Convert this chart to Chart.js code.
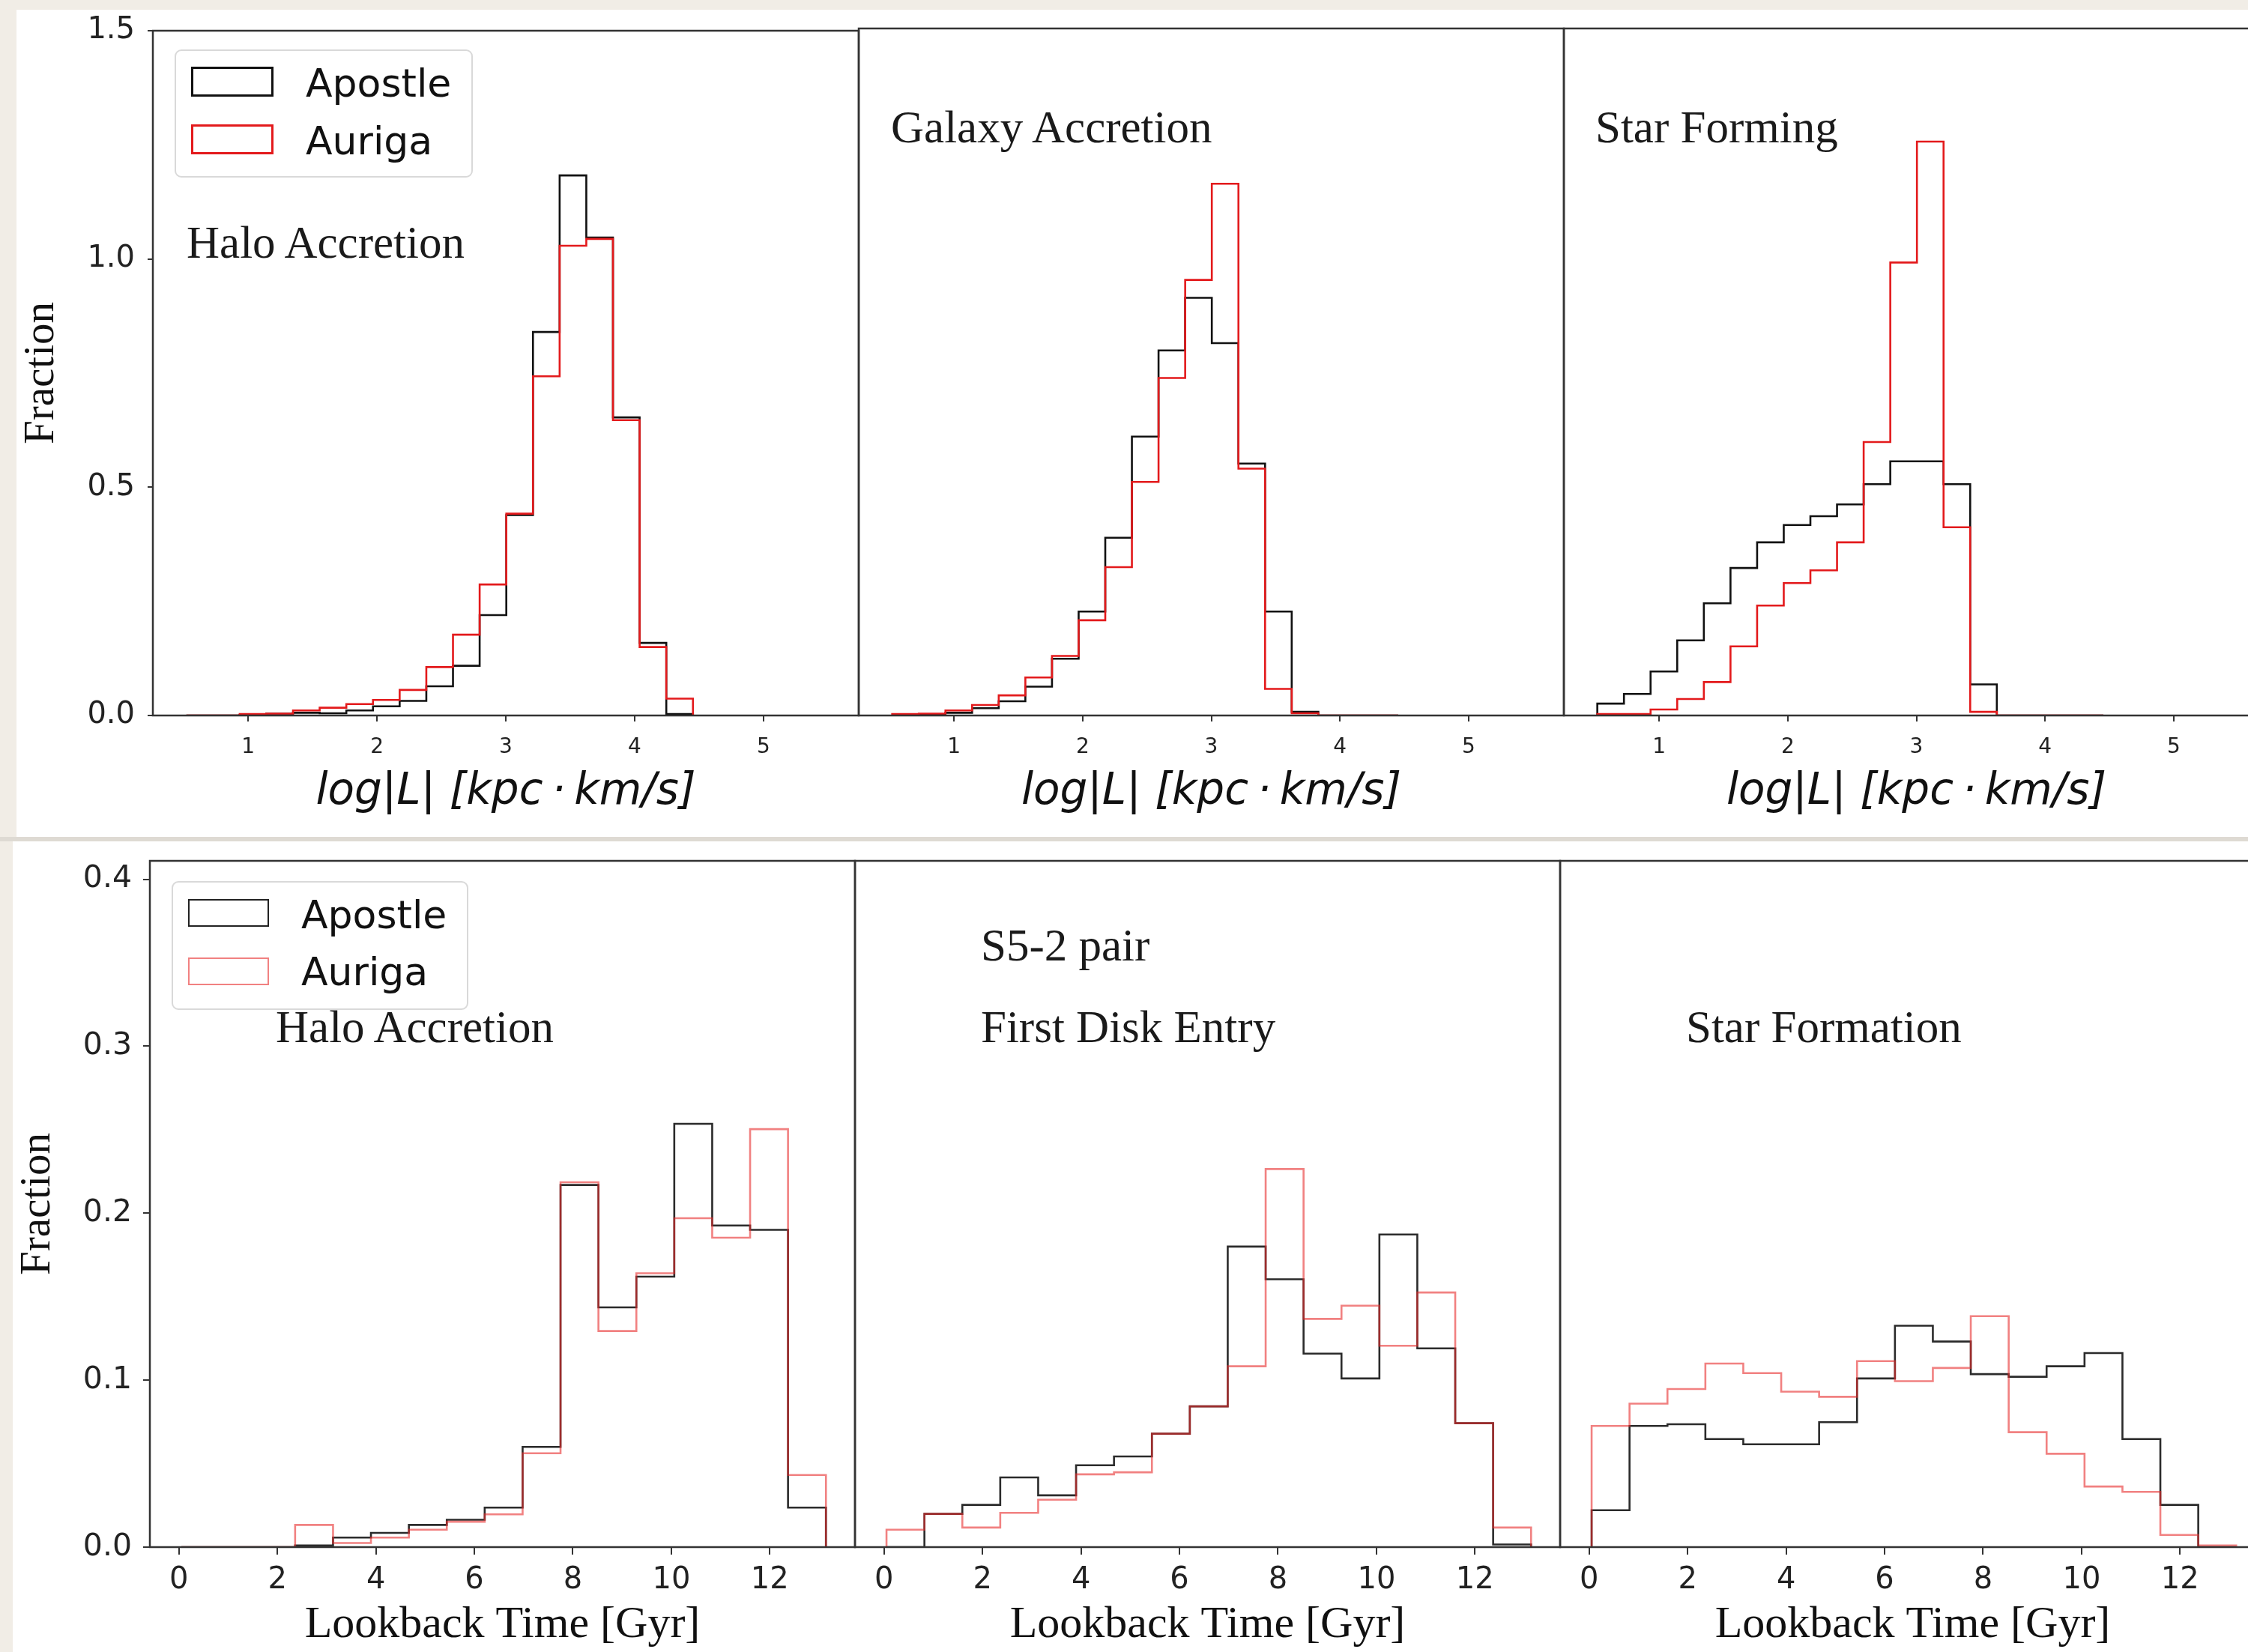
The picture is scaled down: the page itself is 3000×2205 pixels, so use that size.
<!DOCTYPE html>
<html>
<head>
<meta charset="utf-8">
<script src="https://cdn.jsdelivr.net/npm/chart.js@4.4.1/dist/chart.umd.min.js"></script>
<style>
html,body{margin:0;padding:0;}
body{width:3000px;height:2205px;overflow:hidden;background:#f1ede6;position:relative;}
.fig{position:absolute;background:#fff;}
canvas{position:absolute;}
.ann{position:absolute;font-family:'Liberation Serif';font-size:61px;line-height:0;color:#1a1a1a;white-space:nowrap;}
.leg{position:absolute;background:#fff;border:2px solid #d9d9d9;border-radius:9px;box-sizing:border-box;}
.patch{position:absolute;box-sizing:border-box;background:#fff;}
.ltxt{position:absolute;font-family:'DejaVu Sans';font-size:52px;line-height:0;color:#111;white-space:nowrap;}
</style>
</head>
<body>
<div class="fig" style="left:22px;top:13px;width:2978px;height:1104px;"></div>
<div class="fig" style="left:0;top:1117px;width:3000px;height:6px;background:#dedad3;"></div>
<div class="fig" style="left:17px;top:1123px;width:2983px;height:1082px;"></div>
<script>
// ---------------- DATA ----------------
const seriesNames = ['Apostle', 'Auriga'];

// Top row: log|L| histograms (bin edges shared by the three panels)
const topEdges = [0.52, 0.727, 0.934, 1.141, 1.348, 1.555, 1.762, 1.969, 2.176, 2.383,
                  2.59, 2.797, 3.004, 3.211, 3.418, 3.625, 3.832, 4.039, 4.246, 4.453];
const topTitles = ['Halo Accretion', 'Galaxy Accretion', 'Star Forming'];
const haloL_apostle   = [0, 0, 0.001, 0.004, 0.006, 0.005, 0.011, 0.020, 0.032, 0.064, 0.109, 0.220, 0.439, 0.840, 1.183, 1.047, 0.653, 0.159, 0.003];
const haloL_auriga    = [0, 0, 0.003, 0.004, 0.011, 0.017, 0.025, 0.034, 0.056, 0.106, 0.177, 0.287, 0.442, 0.743, 1.029, 1.044, 0.647, 0.150, 0.037];
const galaxyL_apostle = [0.000, 0.002, 0.006, 0.016, 0.031, 0.063, 0.124, 0.227, 0.388, 0.609, 0.797, 0.912, 0.813, 0.550, 0.227, 0.008, 0, 0, 0];
const galaxyL_auriga  = [0.003, 0.004, 0.011, 0.023, 0.044, 0.083, 0.130, 0.208, 0.324, 0.510, 0.737, 0.951, 1.161, 0.539, 0.058, 0.005, 0, 0, 0];
const starL_apostle   = [0.026, 0.047, 0.096, 0.164, 0.245, 0.322, 0.378, 0.416, 0.435, 0.461, 0.505, 0.555, 0.555, 0.505, 0.068, 0, 0, 0, 0];
const starL_auriga    = [0.003, 0.003, 0.013, 0.036, 0.073, 0.151, 0.240, 0.289, 0.317, 0.378, 0.597, 0.989, 1.253, 0.411, 0.008, 0, 0, 0, 0];
const topXTicks = [1, 2, 3, 4, 5];
const topYTicks = [0.0, 0.5, 1.0, 1.5];

// Bottom row: lookback time histograms
const botEdges = [0.05, 0.82, 1.59, 2.36, 3.13, 3.90, 4.67, 5.44, 6.21, 6.98,
                  7.75, 8.52, 9.29, 10.06, 10.83, 11.60, 12.37, 13.14];
const botTitles = ['Halo Accretion', 'First Disk Entry', 'Star Formation'];
const botSubTitle = 'S5-2 pair';
const haloT_apostle = [0, 0, 0, 0.001, 0.0057, 0.0085, 0.0133, 0.0164, 0.0237, 0.060, 0.2169, 0.1436, 0.162, 0.2535, 0.1926, 0.190, 0.0237];
const haloT_auriga  = [0, 0, 0, 0.0133, 0.0025, 0.0057, 0.0104, 0.0152, 0.0196, 0.0562, 0.2185, 0.1294, 0.164, 0.197, 0.1853, 0.2503, 0.0432];
const diskT_apostle = [0, 0.0199, 0.0253, 0.0417, 0.031, 0.049, 0.0543, 0.0679, 0.0843, 0.180, 0.1604, 0.1159, 0.101, 0.1872, 0.119, 0.0742, 0.0016];
const diskT_auriga  = [0.0104, 0.0199, 0.0117, 0.0205, 0.0284, 0.0436, 0.0448, 0.0679, 0.0843, 0.1083, 0.2264, 0.1367, 0.1446, 0.1206, 0.1525, 0.0742, 0.0117];
const sfT_apostle   = [0.0221, 0.0726, 0.0736, 0.0647, 0.0616, 0.0616, 0.0748, 0.101, 0.1326, 0.1231, 0.1036, 0.102, 0.1083, 0.1162, 0.0647, 0.0253, 0];
const sfT_auriga    = [0.0726, 0.0859, 0.0947, 0.1099, 0.1042, 0.0931, 0.090, 0.1114, 0.0994, 0.1073, 0.1383, 0.0688, 0.0559, 0.0363, 0.0331, 0.0073, 0.001];
const botXTicks = [0, 2, 4, 6, 8, 10, 12];
const botYTicks = [0.0, 0.1, 0.2, 0.3, 0.4];

const topXLabel = 'log|L| [kpc\u2009\u00b7\u2009km/s]';
const botXLabel = 'Lookback Time [Gyr]';
const yLabel = 'Fraction';

// ---------------- STYLE / LAYOUT ----------------
const TOP = {canvasTop:0, canvasBottom:1117, plotTop:38, plotBottom:955,
  xMin:0.26, xMax:5.74, yMin:0, yMax:1.5, xTicks:topXTicks, yTicks:topYTicks, edges:topEdges,
  xTickSize:28, xTickLen:8, xTickPad:18, yTickSize:40, yTickLen:7, yTickPad:17,
  xTitle:topXLabel, xTitleFont:{family:'DejaVu Sans', style:'italic', size:58}, xTitlePad:24,
  redColor:'#e31a1c', blackColor:'#111111', lw:2.6};
const BOT = {canvasTop:1095, canvasBottom:2205, plotTop:1149, plotBottom:2065,
  xMin:-0.59, xMax:13.73, yMin:0, yMax:0.411, xTicks:botXTicks, yTicks:botYTicks, edges:botEdges,
  xTickSize:40, xTickLen:10, xTickPad:11, yTickSize:41, yTickLen:9, yTickPad:15,
  xTitle:botXLabel, xTitleFont:{family:'Liberation Serif', size:60}, xTitlePad:0,
  redColor:'rgba(232,45,45,0.6)', blackColor:'rgba(25,25,25,0.92)', lw:2.6};

const framePlugin = {
  id:'frame',
  afterDatasetsDraw(chart, args, opts){
    const {ctx, chartArea:a} = chart;
    ctx.save();
    ctx.strokeStyle = opts.color; ctx.lineWidth = opts.width;
    ctx.strokeRect(a.left, a.top, a.right - a.left, a.bottom - a.top);
    ctx.restore();
  }
};

function stepPoints(edges, vals){
  const pts = [{x:edges[0], y:0}];
  for (let i = 0; i < vals.length; i++) pts.push({x:edges[i], y:vals[i]});
  pts.push({x:edges[vals.length], y:0});
  return pts;
}

function makePanel(R, plotLeft, plotRight, padL, showY, black, red){
  const padR = 6;
  const W = padL + (plotRight - plotLeft) + padR;
  const H = R.canvasBottom - R.canvasTop;
  const padT = R.plotTop - R.canvasTop;
  const padB = R.canvasBottom - R.plotBottom;
  const cv = document.createElement('canvas');
  cv.width = W; cv.height = H;
  cv.style.left = (plotLeft - padL) + 'px';
  cv.style.top = R.canvasTop + 'px';
  cv.style.width = W + 'px'; cv.style.height = H + 'px';
  document.body.appendChild(cv);
  new Chart(cv, {
    type:'line',
    data:{datasets:[
      {label:seriesNames[1], data:stepPoints(R.edges, red), borderColor:R.redColor, borderWidth:R.lw,
       stepped:'before', pointRadius:0, fill:false, order:0, borderJoinStyle:'miter'},
      {label:seriesNames[0], data:stepPoints(R.edges, black), borderColor:R.blackColor, borderWidth:R.lw,
       stepped:'before', pointRadius:0, fill:false, order:1, borderJoinStyle:'miter'}
    ]},
    options:{
      responsive:false, animation:false, devicePixelRatio:1,
      layout:{padding:{top:padT, right:padR, bottom:0, left:0}},
      plugins:{legend:{display:false}, tooltip:{enabled:false}, frame:{color:'#333', width:2.5}},
      scales:{
        x:{type:'linear', min:R.xMin, max:R.xMax,
          afterBuildTicks:s => { s.ticks = R.xTicks.map(v => ({value:v})); },
          afterFit:s => { s.height = padB; },
          ticks:{font:{family:'DejaVu Sans', size:R.xTickSize}, color:'#222', padding:R.xTickPad,
                 maxRotation:0, autoSkip:false, callback:v => String(v)},
          grid:{display:true, drawOnChartArea:false, drawTicks:true, tickLength:R.xTickLen,
                tickWidth:2, tickColor:'#333', lineWidth:2, color:'#333'},
          border:{display:false},
          title:{display:true, text:R.xTitle, font:R.xTitleFont, color:'#111', padding:{top:0, bottom:R.xTitlePad}}
        },
        y:{type:'linear', min:R.yMin, max:R.yMax,
          afterBuildTicks:s => { s.ticks = R.yTicks.map(v => ({value:v})); },
          afterFit:s => { s.width = padL; },
          ticks:{display:showY, font:{family:'DejaVu Sans', size:R.yTickSize}, color:'#222', padding:R.yTickPad,
                 callback:v => Number(v).toFixed(1)},
          grid:{display:showY, drawOnChartArea:false, drawTicks:true, tickLength:R.yTickLen,
                tickWidth:2, tickColor:'#333', lineWidth:2, color:'#333'},
          border:{display:false},
          title:{display:showY, text:yLabel, font:{family:'Liberation Serif', size:57}, color:'#111', padding:{top:0, bottom:0}}
        }
      }
    },
    plugins:[framePlugin]
  });
}

// top row
makePanel(TOP, 204, 1146, 182, true, haloL_apostle, haloL_auriga);
makePanel(TOP, 1146, 2087, 6, false, galaxyL_apostle, galaxyL_auriga);
makePanel(TOP, 2087, 3028, 6, false, starL_apostle, starL_auriga);
// bottom row
makePanel(BOT, 200, 1141, 183, true, haloT_apostle, haloT_auriga);
makePanel(BOT, 1141, 2082, 6, false, diskT_apostle, diskT_auriga);
makePanel(BOT, 2082, 3023, 6, false, sfT_apostle, sfT_auriga);

// ---------------- annotations ----------------
function addText(cls, text, left, baseline, k){
  const d = document.createElement('div');
  d.className = cls;
  d.textContent = text;
  d.style.left = left + 'px';
  d.style.top = (baseline - k) + 'px';
  document.body.appendChild(d);
  return d;
}
const serifK = 0.3375 * 61;
addText('ann', topTitles[0], 249, 345, serifK);
addText('ann', topTitles[1], 1189, 191, serifK);
addText('ann', topTitles[2], 2129, 191, serifK);
addText('ann', botTitles[0], 368, 1392, serifK);
addText('ann', botSubTitle, 1309, 1283, serifK);
addText('ann', botTitles[1], 1309, 1392, serifK);
addText('ann', botTitles[2], 2250, 1392, serifK);

// ---------------- legends ----------------
function addLegend(box, patches, textLeft, baselines, colors, bw){
  const b = document.createElement('div');
  b.className = 'leg';
  Object.assign(b.style, {left:box[0]+'px', top:box[1]+'px', width:box[2]+'px', height:box[3]+'px'});
  document.body.appendChild(b);
  for (let i = 0; i < 2; i++){
    const p = document.createElement('div');
    p.className = 'patch';
    const r = patches[i];
    Object.assign(p.style, {left:r[0]+'px', top:r[1]+'px', width:r[2]+'px', height:r[3]+'px', border:bw+'px solid '+colors[i]});
    document.body.appendChild(p);
    addText('ltxt', seriesNames[i], textLeft, baselines[i], 0.346 * 52);
  }
}
addLegend([233, 66, 398, 171], [[255, 89, 110, 40], [255, 166, 110, 40]], 408, [129, 206], ['#111', '#e31a1c'], 3);
addLegend([229, 1176, 396, 172], [[251, 1200, 108, 37], [251, 1278, 108, 37]], 402, [1239, 1315], ['#222', 'rgba(232,45,45,0.6)'], 2.5);
</script>
</body>
</html>
